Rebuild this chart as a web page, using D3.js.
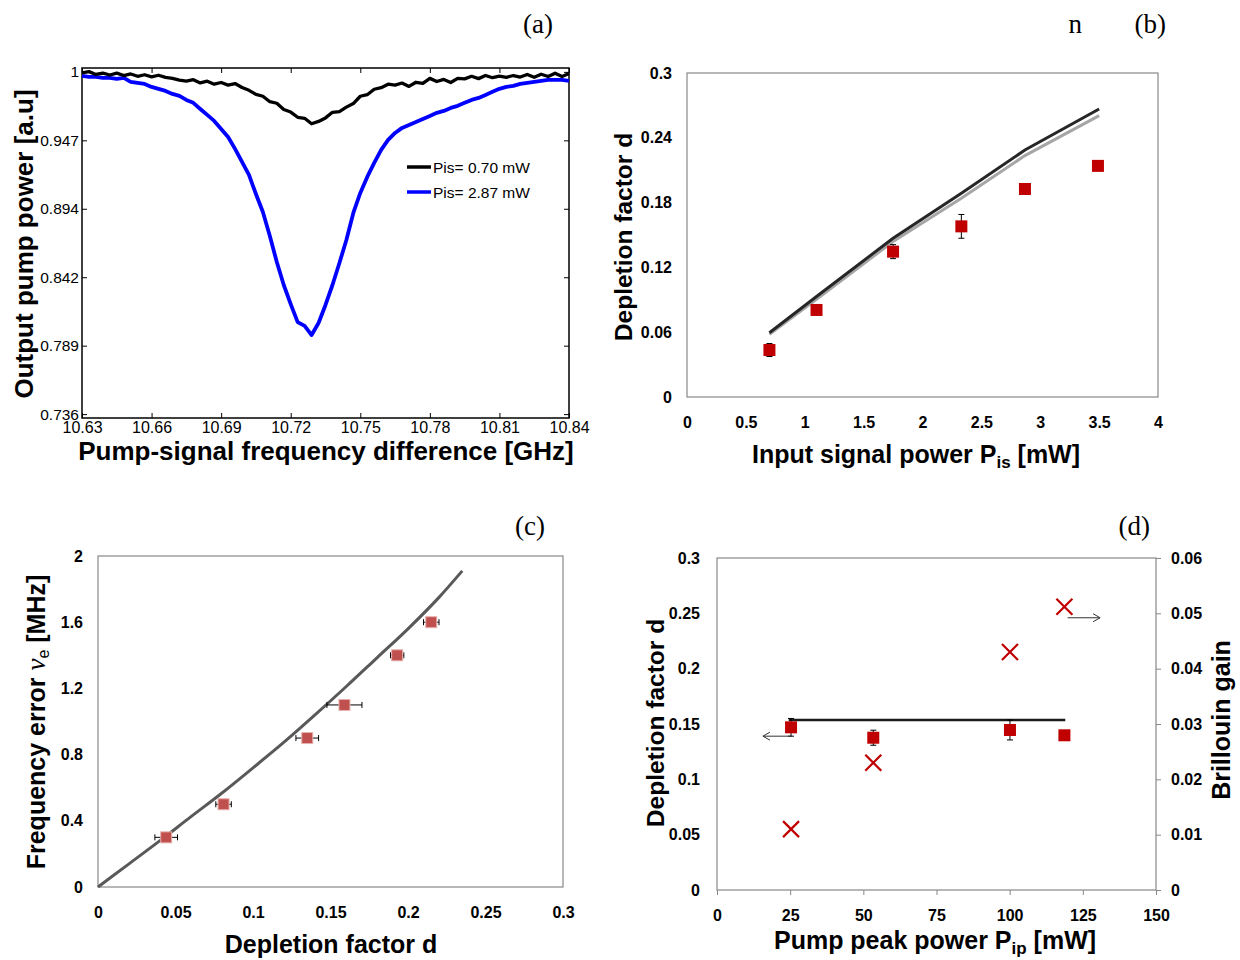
<!DOCTYPE html>
<html><head><meta charset="utf-8">
<script src="https://cdn.jsdelivr.net/npm/d3@7"></script>
<style>body{margin:0;background:#fff}svg{display:block}</style>
</head><body><svg id="c" width="1240" height="960"></svg>
<script>
// ---------- Panel (a) data ----------
const freqGHz = [10.630,10.633,10.636,10.639,10.642,10.645,10.648,10.651,10.654,10.657,10.660,10.663,10.666,10.669,10.672,10.675,10.678,10.681,10.684,10.687,10.690,10.693,10.696,10.699,10.702,10.705,10.708,10.711,10.714,10.717,10.720,10.723,10.726,10.729,10.732,10.735,10.738,10.741,10.744,10.747,10.750,10.753,10.756,10.759,10.762,10.765,10.768,10.771,10.774,10.777,10.780,10.783,10.786,10.789,10.792,10.795,10.798,10.801,10.804,10.807,10.810,10.813,10.816,10.819,10.822,10.825,10.828,10.831,10.834,10.837,10.840];
const pumpPis070 = [0.9992,1.0002,0.9980,0.9990,0.9976,0.9990,0.9972,0.9984,0.9966,0.9978,
 0.9962,0.9974,0.9958,0.9950,0.9936,0.9928,0.9940,0.9915,0.9928,0.9905,
 0.9918,0.9898,0.9910,0.9880,0.9858,0.9826,0.9812,0.9770,0.9758,0.9710,
 0.9690,0.9650,0.9642,0.9600,0.9618,0.9645,0.9688,0.9694,0.9728,0.9756,
 0.9812,0.9824,0.9866,0.9878,0.9905,0.9898,0.9914,0.9888,0.9920,0.9912,
 0.9950,0.9926,0.9942,0.9918,0.9950,0.9946,0.9966,0.9948,0.9972,0.9955,
 0.9968,0.9958,0.9972,0.9960,0.9980,0.9958,0.9982,0.9964,0.9990,0.9965,0.9988];
const pumpPis287 = [0.9969,0.9961,0.9961,0.9954,0.9954,0.9946,0.9954,0.9923,0.9915,0.9907,
 0.9884,0.9869,0.9853,0.9830,0.9815,0.9784,0.9761,0.9714,0.9668,0.9622,
 0.9560,0.9498,0.9406,0.9305,0.9205,0.9058,0.8919,0.8734,0.8533,0.8356,
 0.8209,0.8070,0.8040,0.7970,0.8063,0.8202,0.8356,0.8526,0.8703,0.8912,
 0.9066,0.9190,0.9298,0.9398,0.9475,0.9529,0.9568,0.9591,0.9614,0.9637,
 0.9660,0.9684,0.9699,0.9722,0.9738,0.9761,0.9784,0.9799,0.9822,0.9846,
 0.9869,0.9884,0.9892,0.9907,0.9915,0.9923,0.9931,0.9938,0.9938,0.9938,0.9931];
const ticksAx = [10.63,10.66,10.69,10.72,10.75,10.78,10.81,10.84];
const ticksAy = [0.736,0.7888,0.8416,0.8944,0.9472,1.0];
const ticksAyLabels = ["0.736","0.789","0.842","0.894","0.947","1"];
const legendA = ["Pis= 0.70 mW","Pis= 2.87 mW"];

// ---------- Panel (b) data ----------
const pisB = [0.70,1.10,1.75,2.33,2.87,3.49];
const depB = [0.0435,0.0806,0.1346,0.158,0.1926,0.214];
const depErrB = [0.006,0,0.0065,0.011,0,0];
const theoryPisB = [0.7,1.1,1.75,2.33,2.87,3.5];
const theoryBlackB = [0.0595,0.093,0.147,0.1886,0.2287,0.2667];
const theoryGrayB = [0.058,0.0905,0.144,0.184,0.2235,0.2605];
const ticksBx = [0,0.5,1,1.5,2,2.5,3,3.5,4];
const ticksBy = [0,0.06,0.12,0.18,0.24,0.3];

// ---------- Panel (c) data ----------
const depC = [0.044,0.081,0.135,0.159,0.193,0.215];
const freqErrC = [0.3,0.5,0.9,1.1,1.4,1.6];
const depErrC = [0.0073,0.005,0.0073,0.0113,0.0043,0.005];
const theoryDC = [0,0.02,0.04,0.06,0.08,0.10,0.12,0.14,0.16,0.18,0.20,0.22,0.235];
const theoryNuC = [0,0.14,0.28,0.425,0.568,0.72,0.875,1.04,1.21,1.385,1.56,1.75,1.91];
const ticksCx = [0,0.05,0.1,0.15,0.2,0.25,0.3];
const ticksCy = [0,0.4,0.8,1.2,1.6,2];

// ---------- Panel (d) data ----------
const pumpD = [25.3,53.4,100.1,118.7];
const depD = [0.147,0.1376,0.1446,0.1398];
const depErrD = [0.008,0.0068,0.009,0];
const gainD = [0.011,0.023,0.043,0.0512];
const meanLineX = [24.5,119];
const meanLineY = [0.1536,0.1536];
const ticksDx = [0,25,50,75,100,125,150];
const ticksDy = [0,0.05,0.1,0.15,0.2,0.25,0.3];
const ticksDy2 = [0,0.01,0.02,0.03,0.04,0.05,0.06];

const SANS = "'Liberation Sans', Arial, sans-serif";
const SERIF = "'Liberation Serif','Times New Roman',serif";
const svg = d3.select('#c');

function styleAxis(g, size, weight){
  g.attr('font-family', SANS).attr('font-size', size).attr('font-weight', weight);
  g.selectAll('text').attr('fill','#000');
  g.select('.domain').remove();
}
function rotLabel(x, y, size){
  return svg.append('text').attr('transform',`translate(${x},${y}) rotate(-90)`)
    .attr('text-anchor','middle').attr('font-family',SANS).attr('font-weight','bold').attr('font-size',size);
}
function hLabel(x, y, size){
  return svg.append('text').attr('x',x).attr('y',y)
    .attr('text-anchor','middle').attr('font-family',SANS).attr('font-weight','bold').attr('font-size',size);
}
function panelTag(x, y, t){
  svg.append('text').attr('x',x).attr('y',y).attr('text-anchor','end')
    .attr('font-family',SERIF).attr('font-size',27).text(t);
}

// ================= Panel (a) =================
const xA = d3.scaleLinear().domain([10.63,10.84]).range([82,569]);
const yA = d3.scaleLinear().domain([0.733,1.003]).range([418,68]);
const gA = svg.append('g');
gA.append('g').attr('transform','translate(0,418)')
  .call(d3.axisBottom(xA).tickValues(ticksAx).tickFormat(d3.format('.2f')).tickSizeInner(-5).tickSizeOuter(0).tickPadding(4))
  .call(g=>styleAxis(g,16,'normal'));
gA.append('g').attr('transform','translate(0,68)')
  .call(d3.axisTop(xA).tickValues(ticksAx).tickFormat('').tickSizeInner(-5).tickSizeOuter(0))
  .call(g=>styleAxis(g,15,'normal'));
gA.append('g').attr('transform','translate(82,0)')
  .call(d3.axisLeft(yA).tickValues(ticksAy).tickFormat((d,i)=>ticksAyLabels[i]).tickSizeInner(-5).tickSizeOuter(0).tickPadding(3))
  .call(g=>styleAxis(g,15.5,'normal'));
gA.append('g').attr('transform','translate(569,0)')
  .call(d3.axisRight(yA).tickValues(ticksAy).tickFormat('').tickSizeInner(-5).tickSizeOuter(0))
  .call(g=>styleAxis(g,15,'normal'));
gA.selectAll('.tick line').attr('stroke','#000').attr('stroke-width',1);
gA.append('rect').attr('x',82).attr('y',68).attr('width',487).attr('height',350)
  .attr('fill','none').attr('stroke','#000').attr('stroke-width',1.5);
const lineA = arr => d3.line().x((d,i)=>xA(freqGHz[i])).y((d,i)=>yA(arr[i]))(arr);
gA.append('path').attr('d',lineA(pumpPis287)).attr('fill','none').attr('stroke','#0000ff').attr('stroke-width',3.8).attr('stroke-linejoin','round');
gA.append('path').attr('d',lineA(pumpPis070)).attr('fill','none').attr('stroke','#000').attr('stroke-width',3.3).attr('stroke-linejoin','round');
// legend
const legColors = ['#000','#0000ff'];
legendA.forEach((t,i)=>{
  gA.append('line').attr('x1',407).attr('x2',431).attr('y1',167+25*i).attr('y2',167+25*i)
    .attr('stroke',legColors[i]).attr('stroke-width',3.5);
  gA.append('text').attr('x',433).attr('y',172.5+25*i).attr('font-family',SANS).attr('font-size',15.5).text(t);
});
rotLabel(33,244,26).text('Output pump power [a.u]');
hLabel(326,460,26).text('Pump-signal frequency difference [GHz]');
panelTag(553,33,'(a)');

// ================= Panel (b) =================
const xB = d3.scaleLinear().domain([0,4]).range([687,1158]);
const yB = d3.scaleLinear().domain([0,0.3]).range([397,73]);
const gB = svg.append('g');
gB.append('rect').attr('x',687).attr('y',73).attr('width',471).attr('height',324)
  .attr('fill','none').attr('stroke','#888').attr('stroke-width',1.2);
gB.append('g').attr('transform','translate(0,397)')
  .call(d3.axisBottom(xB).tickValues(ticksBx).tickFormat(d3.format('~g')).tickSize(0).tickPadding(20))
  .call(g=>styleAxis(g,16,'bold'));
gB.append('g').attr('transform','translate(687,0)')
  .call(d3.axisLeft(yB).tickValues(ticksBy).tickFormat(d3.format('~g')).tickSize(0).tickPadding(15))
  .call(g=>styleAxis(g,16,'bold'));
const lineB = arr => d3.line().x((d,i)=>xB(theoryPisB[i])).y((d,i)=>yB(arr[i]))(arr);
gB.append('path').attr('d',lineB(theoryGrayB)).attr('fill','none').attr('stroke','#a6a6a6').attr('stroke-width',3);
gB.append('path').attr('d',lineB(theoryBlackB)).attr('fill','none').attr('stroke','#262626').attr('stroke-width',3);
pisB.forEach((p,i)=>{
  if(depErrB[i]>0){
    const cx=xB(p), y1=yB(depB[i]-depErrB[i]), y2=yB(depB[i]+depErrB[i]);
    gB.append('path').attr('d',`M${cx},${y1}V${y2}M${cx-3},${y1}H${cx+3}M${cx-3},${y2}H${cx+3}`).attr('stroke','#000').attr('stroke-width',1).attr('fill','none');
  }
});
gB.selectAll('rect.pt').data(pisB).enter().append('rect').attr('class','pt')
  .attr('x',d=>xB(d)-6).attr('y',(d,i)=>yB(depB[i])-6).attr('width',12).attr('height',12).attr('fill','#c00000');
rotLabel(632,237,24.5).text('Depletion factor d');
{
  const t = hLabel(916,463,25);
  t.append('tspan').text('Input signal power P');
  t.append('tspan').attr('font-size',17).attr('dy',5).text('is');
  t.append('tspan').attr('dy',-5).text(' [mW]');
}
svg.append('text').attr('x',1082).attr('y',33).attr('text-anchor','end').attr('font-family',SERIF).attr('font-size',27).text('n');
panelTag(1166,33,'(b)');

// ================= Panel (c) =================
const xC = d3.scaleLinear().domain([0,0.3]).range([98,563]);
const yC = d3.scaleLinear().domain([0,2]).range([887,556]);
const gC = svg.append('g');
gC.append('rect').attr('x',98).attr('y',556).attr('width',465).attr('height',331)
  .attr('fill','none').attr('stroke','#888').attr('stroke-width',1.2);
gC.append('g').attr('transform','translate(0,887)')
  .call(d3.axisBottom(xC).tickValues(ticksCx).tickFormat(d3.format('~g')).tickSize(0).tickPadding(20))
  .call(g=>styleAxis(g,16,'bold'));
gC.append('g').attr('transform','translate(98,0)')
  .call(d3.axisLeft(yC).tickValues(ticksCy).tickFormat(d3.format('~g')).tickSize(0).tickPadding(15))
  .call(g=>styleAxis(g,16,'bold'));
gC.append('path').attr('d',d3.line().curve(d3.curveMonotoneX).x((d,i)=>xC(theoryDC[i])).y((d,i)=>yC(theoryNuC[i]))(theoryNuC))
  .attr('fill','none').attr('stroke','#595959').attr('stroke-width',3);
depC.forEach((d,i)=>{
  const cy=yC(freqErrC[i]), x1=xC(d-depErrC[i]), x2=xC(d+depErrC[i]);
  gC.append('path').attr('d',`M${x1},${cy}H${x2}M${x1},${cy-3}V${cy+3}M${x2},${cy-3}V${cy+3}`).attr('stroke','#000').attr('stroke-width',1).attr('fill','none');
});
gC.selectAll('rect.pt').data(depC).enter().append('rect').attr('class','pt')
  .attr('x',d=>xC(d)-5.5).attr('y',(d,i)=>yC(freqErrC[i])-5.5).attr('width',11).attr('height',11)
  .attr('fill','#c0504d').attr('stroke','#e6b1b0').attr('stroke-width',1);
{
  const t = rotLabel(45,722,25);
  t.append('tspan').text('Frequency error ');
  t.append('tspan').attr('font-family',SERIF).attr('font-style','italic').attr('font-weight','normal').attr('font-size',27).text('ν');
  t.append('tspan').attr('font-weight','normal').attr('font-size',16).attr('dy',4).text('e');
  t.append('tspan').attr('dy',-4).text(' [MHz]');
}
hLabel(331,953,25).text('Depletion factor d');
panelTag(545,535,'(c)');

// ================= Panel (d) =================
const xD = d3.scaleLinear().domain([0,150]).range([717,1156]);
const yD = d3.scaleLinear().domain([0,0.3]).range([890,558]);
const yD2 = d3.scaleLinear().domain([0,0.06]).range([890,558]);
const gD = svg.append('g');
gD.append('rect').attr('x',717).attr('y',558).attr('width',439).attr('height',332)
  .attr('fill','none').attr('stroke','#888').attr('stroke-width',1.2);
gD.append('g').attr('transform','translate(0,890)')
  .call(d3.axisBottom(xD).tickValues(ticksDx).tickFormat(d3.format('~g')).tickSizeInner(5).tickSizeOuter(0).tickPadding(15))
  .call(g=>styleAxis(g,16,'bold'));
gD.append('g').attr('transform','translate(717,0)')
  .call(d3.axisLeft(yD).tickValues(ticksDy).tickFormat(d3.format('~g')).tickSize(0).tickPadding(17))
  .call(g=>styleAxis(g,16,'bold'));
gD.append('g').attr('transform','translate(1156,0)')
  .call(d3.axisRight(yD2).tickValues(ticksDy2).tickFormat(d3.format('~g')).tickSizeInner(5).tickSizeOuter(0).tickPadding(10))
  .call(g=>styleAxis(g,16,'bold'));
gD.selectAll('.tick line').attr('stroke','#888');
gD.append('path').attr('d',d3.line().x((d,i)=>xD(meanLineX[i])).y((d,i)=>yD(meanLineY[i]))(meanLineY))
  .attr('fill','none').attr('stroke','#1a1a1a').attr('stroke-width',2.5);
pumpD.forEach((p,i)=>{
  if(depErrD[i]>0){
    const cx=xD(p), y1=yD(depD[i]-depErrD[i]), y2=yD(depD[i]+depErrD[i]);
    gD.append('path').attr('d',`M${cx},${y1}V${y2}M${cx-3},${y1}H${cx+3}M${cx-3},${y2}H${cx+3}`).attr('stroke','#000').attr('stroke-width',1).attr('fill','none');
  }
});
gD.selectAll('rect.pt').data(pumpD).enter().append('rect').attr('class','pt')
  .attr('x',d=>xD(d)-6).attr('y',(d,i)=>yD(depD[i])-6).attr('width',12).attr('height',12).attr('fill','#c00000');
pumpD.forEach((p,i)=>{
  const cx=xD(p), cy=yD2(gainD[i]), s=8;
  gD.append('path').attr('d',`M${cx-s},${cy-s}L${cx+s},${cy+s}M${cx-s},${cy+s}L${cx+s},${cy-s}`)
    .attr('stroke','#c00000').attr('stroke-width',2.2).attr('fill','none');
});
// arrows indicating axes
{
  const ax1=xD(25.6), ax2=xD(15.7), ay=yD(0.139);
  gD.append('path').attr('d',`M${ax1},${ay}H${ax2}M${ax2+7},${ay-4}L${ax2},${ay}L${ax2+7},${ay+4}`).attr('stroke','#333').attr('stroke-width',1).attr('fill','none');
  const bx1=xD(119.8), bx2=xD(130.9), by=yD2(0.0492);
  gD.append('path').attr('d',`M${bx1},${by}H${bx2}M${bx2-7},${by-4}L${bx2},${by}L${bx2-7},${by+4}`).attr('stroke','#333').attr('stroke-width',1).attr('fill','none');
}
rotLabel(664,723,24.5).text('Depletion factor d');
rotLabel(1230,720,25).text('Brillouin gain');
{
  const t = hLabel(935,949,25);
  t.append('tspan').text('Pump peak power P');
  t.append('tspan').attr('font-size',17).attr('dy',5).text('ip');
  t.append('tspan').attr('dy',-5).text(' [mW]');
}
panelTag(1150,535,'(d)');
</script></body></html>
